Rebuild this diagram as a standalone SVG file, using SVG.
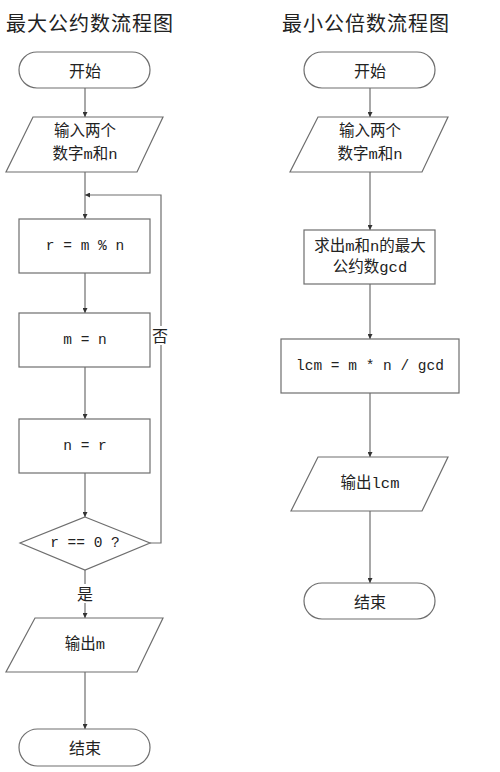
<svg xmlns="http://www.w3.org/2000/svg" width="500" height="772" viewBox="0 0 500 772">
<defs>
<style>
.sh{fill:#fff;stroke:#6e6e6e;stroke-width:1.2}
.ln{fill:none;stroke:#6e6e6e;stroke-width:1.2}
.t{font-family:"Liberation Mono","Noto Sans CJK SC",monospace;font-size:15.5px;fill:#222;text-anchor:middle;dominant-baseline:central}
.c{font-family:"Noto Sans CJK SC",sans-serif;font-size:16px;fill:#222;text-anchor:middle;dominant-baseline:central}
.code{font-size:14.5px}
.title{font-family:"Noto Sans CJK SC",sans-serif;font-size:20px;fill:#222;letter-spacing:1px}
</style>
<marker id="ar" viewBox="0 0 10 10" refX="10" refY="5" markerWidth="5" markerHeight="5" orient="auto" markerUnits="userSpaceOnUse">
<path d="M0,0 L10,5 L0,10 z" fill="#333"/>
</marker>
</defs>
<rect width="500" height="772" fill="#fff"/>
<text class="title" x="6" y="31">最大公约数流程图</text>
<text class="title" x="282" y="31">最小公倍数流程图</text>

<g id="connectors">
<line class="ln" x1="85" y1="88" x2="85" y2="117" marker-end="url(#ar)"/>
<line class="ln" x1="85" y1="172" x2="85" y2="219" marker-end="url(#ar)"/>
<line class="ln" x1="85" y1="273" x2="85" y2="313" marker-end="url(#ar)"/>
<line class="ln" x1="85" y1="367" x2="85" y2="419" marker-end="url(#ar)"/>
<line class="ln" x1="85" y1="473" x2="85" y2="517" marker-end="url(#ar)"/>
<line class="ln" x1="85" y1="570" x2="85" y2="618" marker-end="url(#ar)"/>
<line class="ln" x1="85" y1="672" x2="85" y2="729" marker-end="url(#ar)"/>
<polyline class="ln" points="150,543 161,543 161,195 85,195" marker-end="url(#ar)"/>
<rect x="152" y="326" width="18" height="19" fill="#fff"/>
<text class="c" x="160" y="335">否</text>
<rect x="76" y="584" width="18" height="19" fill="#fff"/>
<text class="c" x="85" y="593">是</text>
<line class="ln" x1="370" y1="88" x2="370" y2="117" marker-end="url(#ar)"/>
<line class="ln" x1="370" y1="172" x2="370" y2="230" marker-end="url(#ar)"/>
<line class="ln" x1="370" y1="284" x2="370" y2="339" marker-end="url(#ar)"/>
<line class="ln" x1="370" y1="393" x2="370" y2="457" marker-end="url(#ar)"/>
<line class="ln" x1="370" y1="511" x2="370" y2="583" marker-end="url(#ar)"/>
</g>

<g id="gcd-start">
<rect class="sh" x="19" y="52" width="131" height="36" rx="18"/>
<text class="c" x="85" y="70">开始</text>
</g>
<g id="gcd-input">
<polygon class="sh" points="33,117 163,117 137,172 6,172"/>
<text class="t" x="85" y="132">输入两个</text>
<text class="t" x="85" y="155">数字m和n</text>
</g>
<g id="gcd-mod">
<rect class="sh" x="19" y="219" width="131" height="54"/>
<text class="t code" x="85" y="246">r = m % n</text>
</g>
<g id="gcd-m">
<rect class="sh" x="19" y="313" width="131" height="54"/>
<text class="t code" x="85" y="340">m = n</text>
</g>
<g id="gcd-n">
<rect class="sh" x="19" y="419" width="131" height="54"/>
<text class="t code" x="85" y="446">n = r</text>
</g>
<g id="gcd-cond">
<polygon class="sh" points="85,517 150,543 85,570 20,543"/>
<text class="t code" x="85" y="543">r == 0 ?</text>
</g>
<g id="gcd-output">
<polygon class="sh" points="35,618 163,618 137,672 6,672"/>
<text class="t" x="85" y="645">输出m</text>
</g>
<g id="gcd-end">
<rect class="sh" x="19" y="729" width="131" height="37" rx="18.5"/>
<text class="c" x="85" y="747">结束</text>
</g>

<g id="lcm-start">
<rect class="sh" x="304" y="52" width="131" height="36" rx="18"/>
<text class="c" x="370" y="70">开始</text>
</g>
<g id="lcm-input">
<polygon class="sh" points="318,117 448,117 422,172 290,172"/>
<text class="t" x="370" y="132">输入两个</text>
<text class="t" x="370" y="155">数字m和n</text>
</g>
<g id="lcm-gcd">
<rect class="sh" x="304" y="230" width="131" height="54"/>
<text class="t" x="370" y="247">求出m和n的最大</text>
<text class="t" x="370" y="268">公约数gcd</text>
</g>
<g id="lcm-calc">
<rect class="sh" x="281" y="339" width="178" height="54"/>
<text class="t code" x="370" y="366">lcm = m * n / gcd</text>
</g>
<g id="lcm-output">
<polygon class="sh" points="318,457 448,457 422,511 291,511"/>
<text class="t" x="370" y="484">输出lcm</text>
</g>
<g id="lcm-end">
<rect class="sh" x="304" y="583" width="131" height="36" rx="18"/>
<text class="c" x="370" y="601">结束</text>
</g>
</svg>
